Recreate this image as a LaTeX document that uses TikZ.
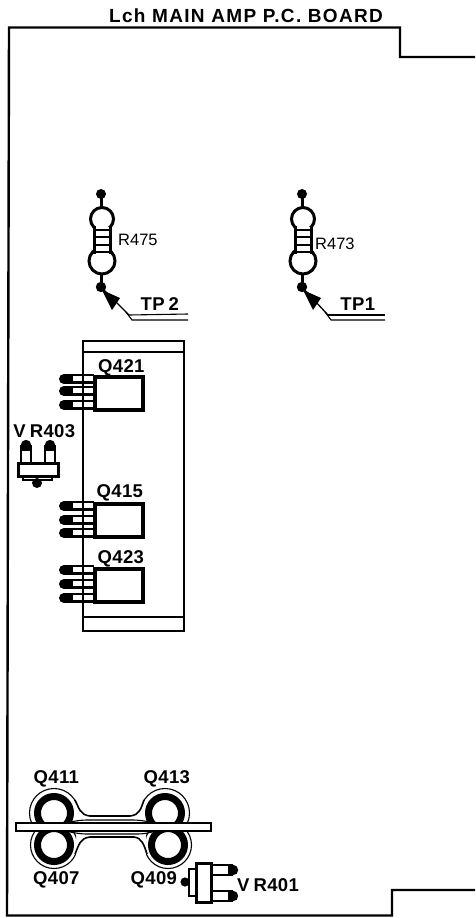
\documentclass[tikz,border=0pt]{standalone}
\usepackage{fontspec}
\setmainfont{Liberation Sans}
\usetikzlibrary{arrows.meta}
\tikzset{
 x=1pt,y=-1pt,
 board/.style={line width=2.4pt,black},
 lab/.style={font=\fontsize{18.5}{18}\selectfont\addfontfeature{LetterSpace=2},inner sep=0pt,text=black},
 rlab/.style={font=\fontsize{16.5}{16}\selectfont,inner sep=0pt,text=black},
 ttl/.style={font=\fontsize{19}{18}\selectfont\bfseries\addfontfeature{LetterSpace=7},inner sep=0pt,text=black},
 hvy/.style={line width=3pt,black},
 pkg/.style={line width=4.5pt,black,fill=white},
 thn/.style={line width=1.1pt,black},
}
\newcommand{\resistor}[2]{%
 \begin{scope}[shift={(#1,#2)}]
  \fill (0,-25) circle (5);
  \fill (0,68) circle (5.2);
  \draw[hvy] (0,-25) -- (0,-12);
  \draw[hvy] (0,55) -- (0,68);
  \draw[hvy] (1,0) circle (11.5);
  \draw[hvy] (1,42) circle (13);
  \fill[white] (-6.5,8) rectangle (9.5,34);
  \draw[hvy] (-6.5,7) -- (-6.5,35);
  \draw[hvy] (9.5,7) -- (9.5,35);
  \foreach \y in {11,18,26,33} \draw[line width=2.2pt] (-6.5,\y) -- (9.5,\y);
 \end{scope}}
\newcommand{\tranny}[7]{%
 \begin{scope}[shift={(#1,#2)}]
  \foreach \y in {#3,#4,#5}{
   \draw[line width=2pt] (-28,\y-3.6) -- (2,\y-3.6);
   \draw[line width=3pt] (-28,\y+3) -- (2,\y+3);
   \fill (-28,\y) circle (5);
   \fill (-28,\y-5) rectangle (-19,\y+4.5);
  }
  \draw[pkg] (3,#6) rectangle (51,#7);
 \end{scope}}
\begin{document}
\begin{tikzpicture}
\useasboundingbox (0,0) rectangle (475,918);
\fill[white] (0,0) rectangle (475,918);
% board
\draw[board] (475,57) -- (400,57) -- (400,27.5) -- (9,27.5) -- (7,915.5) -- (392,915.5) -- (392,890) -- (475,890);
\node[ttl,anchor=base] (title) at (246,23) {Lch MAIN AMP P.C. BOARD};
% resistors
\resistor{101}{219}
\resistor{302}{219}
\node[rlab,anchor=base west] (r475) at (118,245) {R475};
\node[rlab,anchor=base west] (r473) at (315,249) {R473};
\coordinate (d2) at (101,287);
\coordinate (d1) at (302,287);
\coordinate (t2a) at (129,315);
\coordinate (t1a) at (328,315);
\coordinate (t2e) at (188,314);
\coordinate (t1e) at (385,315);
\draw[line width=1.3pt] (t2a) -- (d2);
\draw[line width=1.3pt] (t1a) -- (d1);
\fill (d2) ++(1,3) -- ++(18,8) -- ++(-8,12) -- cycle;
\fill (d1) ++(1,3) -- ++(18,8) -- ++(-8,12) -- cycle;
\draw[thn] (t2a) -- (t2e);
\draw[thn] (126,312) -- (132,320) -- (188,320);
\draw[thn] (t1a) -- (t1e);
\draw[thn] (325,312) -- (331,320) -- (385,320);
\node[lab,anchor=base] (tp2) at (160,310) {\textbf{TP\kern4pt 2}};
\node[lab,anchor=base] (tp1) at (358,310) {\textbf{TP1}};
% module
\draw[line width=2.6pt] (83,341) rectangle (184,631);
\draw[line width=2pt] (83,352) -- (184,352);
\draw[line width=2pt] (83,617) -- (184,617);
\tranny{92}{373}{6}{18}{32}{4}{37}
\tranny{92}{501}{5}{19}{32}{3}{36}
\tranny{92}{566}{4}{18}{32}{3}{36}
\node[lab,anchor=base] (q421) at (121.5,372) {\textbf{Q421}};
\node[lab,anchor=base] (q415) at (120,497) {\textbf{Q415}};
\node[lab,anchor=base] (q423) at (121,563) {\textbf{Q423}};
% VR403
\node[lab,anchor=base] (vr403) at (44.5,437) {\textbf{V\kern4pt R403}};
\foreach \x in {26,50}{
 \draw[line width=2.4pt] (\x-5,448) -- (\x-5,464);
 \draw[line width=2.4pt] (\x+5,448) -- (\x+5,464);
 \fill (\x,445) circle (5.2);
 \fill (\x-6,445) rectangle (\x+6,451);
}
\draw[line width=2.4pt,fill=white] (23,474) -- (52,474) -- (52,480) -- (23,480) -- cycle;
\fill (37,483) circle (5);
\draw[line width=3pt,fill=white] (18,463) rectangle (58,476);
% output transistors
\begin{scope}
 \clip (0,780) rectangle (300,823);
 \draw[line width=7pt] (54,813) circle (16.5);
 \draw[line width=7pt] (165,813) circle (16.5);
\end{scope}
\begin{scope}
 \clip (0,780) rectangle (76,823);
 \draw[thn] (54,813) circle (24.5);
\end{scope}
\begin{scope}
 \clip (143,780) rectangle (211,823);
 \draw[thn] (165,813) circle (24.5);
\end{scope}
\begin{scope}
 \clip (0,831) rectangle (300,880);
 \draw[line width=7pt] (54,845) circle (16.5);
 \draw[line width=7pt] (168,845) circle (16.5);
\end{scope}
\begin{scope}
 \clip (0,831) rectangle (76,880);
 \draw[thn] (54,845) circle (23.5);
\end{scope}
\begin{scope}
 \clip (146,831) rectangle (211,880);
 \draw[thn] (168,845) circle (23.5);
\end{scope}
\draw[line width=1.6pt] (75,800) .. controls (79,808) and (80,815) .. (90,816) -- (130,816) .. controls (140,815) and (141,808) .. (144,800);
\draw[thn] (70,822) .. controls (76,821) and (80,820) .. (88,820) -- (132,820) .. controls (140,820) and (144,821) .. (150,822);
\draw[thn] (70,832) .. controls (76,833) and (80,834) .. (88,834) -- (136,834) .. controls (144,834) and (148,833) .. (152,832);
\draw[line width=1.6pt] (75,854) .. controls (79,845) and (80,838) .. (90,837) -- (134,837) .. controls (142,838) and (144,845) .. (147,854);
\draw[line width=2.6pt,fill=white] (16,823) rectangle (211,831);
\node[lab,anchor=base] (q411) at (56.5,783) {\textbf{Q411}};
\node[lab,anchor=base] (q413) at (167,783) {\textbf{Q413}};
\node[lab,anchor=base] (q407) at (56.5,884) {\textbf{Q407}};
\node[lab,anchor=base] (q409) at (154,884) {\textbf{Q409}};
% VR401
\foreach \y in {870,896}{
 \draw[line width=2.4pt] (210,\y-5) -- (230,\y-5);
 \draw[line width=2.4pt] (210,\y+5) -- (230,\y+5);
 \fill (233,\y) circle (5.2);
 \fill (228,\y-6) rectangle (233,\y+6);
}
\draw[line width=2.4pt,fill=white] (189,869) rectangle (197,896);
\fill (185,882) circle (4.6);
\draw[line width=3pt,fill=white] (196,863) rectangle (211,902);
\node[lab,anchor=base west] (vr401) at (237,891) {\textbf{V\kern4pt R401}};
\end{tikzpicture}
\end{document}
